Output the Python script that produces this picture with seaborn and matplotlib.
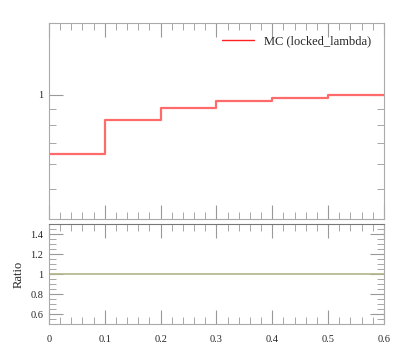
"""MC locked_lambda distribution with ratio panel"""
import matplotlib
matplotlib.use("Agg")
import matplotlib.pyplot as plt
import matplotlib.ticker as mticker
import pandas as pd
import seaborn as sns

# bin edges and contents
bin_edges = [0.0, 0.1, 0.2, 0.3, 0.4, 0.5, 0.6]
mc_values = [0.647, 0.831, 0.910, 0.956, 0.980, 0.997]
ratio_values = [1.0, 1.0, 1.0, 1.0, 1.0, 1.0]
ratio_ticks = [0.6, 0.8, 1.0, 1.2, 1.4]
ratio_labels = ["0.6", "0.8", "1", "1.2", "1.4"]
x_ticks = [0.0, 0.1, 0.2, 0.3, 0.4, 0.5, 0.6]
x_labels = ["0", "0.1", "0.2", "0.3", "0.4", "0.5", "0.6"]


def steps(vals):
    # steps-post needs the last value repeated at the right edge
    return pd.DataFrame({"x": bin_edges, "y": vals + [vals[-1]]})


sns.set_style("ticks")
plt.rcParams["font.family"] = ["Liberation Serif", "DejaVu Serif"]
spine_col = "#aaaaaa"

fig = plt.figure(figsize=(3.97, 3.58), dpi=100)
ax = fig.add_axes([0.1234, 0.388, 0.8438, 0.5478])
rx = fig.add_axes([0.1234, 0.095, 0.8438, 0.279])

sns.lineplot(data=steps(mc_values), x="x", y="y", ax=ax, color="#ff6a6a",
             lw=1.6, drawstyle="steps-post", label="MC (locked_lambda)")
ax.set_yscale("log")
ax.set_xlim(0, 0.6)
ax.set_ylim(0.4, 1.7)
ax.yaxis.set_major_locator(mticker.FixedLocator([1]))
ax.yaxis.set_major_formatter(mticker.FixedFormatter(["1"]))
ax.yaxis.set_minor_formatter(mticker.NullFormatter())
ax.set_xticks(x_ticks)
ax.set_xticklabels([])
ax.set_xlabel("")
ax.set_ylabel("")
leg = ax.legend(loc="upper right", frameon=False, fontsize=9, handlelength=2.6,
                borderaxespad=0.6)
for h in leg.get_lines():
    h.set_color("#ff2020")
    h.set_linewidth(1.0)

sns.lineplot(data=steps(ratio_values), x="x", y="y", ax=rx, color="#b4b488",
             lw=1.2, drawstyle="steps-post", legend=False)
rx.set_xlim(0, 0.6)
rx.set_ylim(0.5, 1.5)
rx.set_yticks(ratio_ticks)
rx.set_yticklabels(ratio_labels)
rx.set_xticks(x_ticks)
rx.set_xticklabels(x_labels)
rx.set_xlabel("")
rx.set_ylabel("Ratio", fontsize=9)

for a in (ax, rx):
    a.minorticks_on()
    a.tick_params(which="both", direction="in", top=True, right=True,
                  color="#999999", labelsize=7.5, pad=4)
    a.tick_params(which="major", length=10, width=0.8)
    a.tick_params(which="minor", length=5, width=0.6)
    for s in a.spines.values():
        s.set_color(spine_col)
        s.set_linewidth(0.8)
ax.xaxis.set_minor_locator(mticker.AutoMinorLocator(5))
ax.yaxis.set_minor_formatter(mticker.NullFormatter())
rx.xaxis.set_minor_locator(mticker.AutoMinorLocator(5))
rx.yaxis.set_minor_locator(mticker.AutoMinorLocator(4))
rx.spines["top"].set_color("#777777")
rx.tick_params(axis="x", pad=8)

fig.savefig("out.png", dpi=100)
